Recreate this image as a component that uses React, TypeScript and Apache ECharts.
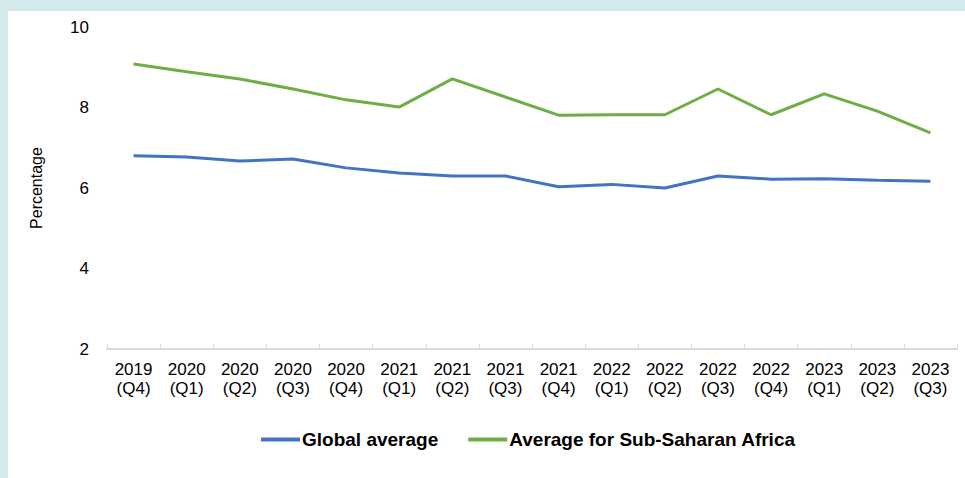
import React, { useEffect, useRef } from "react";
import * as echarts from "echarts";

const categories = [
  "2019\n(Q4)", "2020\n(Q1)", "2020\n(Q2)", "2020\n(Q3)", "2020\n(Q4)",
  "2021\n(Q1)", "2021\n(Q2)", "2021\n(Q3)", "2021\n(Q4)", "2022\n(Q1)",
  "2022\n(Q2)", "2022\n(Q3)", "2022\n(Q4)", "2023\n(Q1)", "2023\n(Q2)", "2023\n(Q3)",
];
const globalAverage = [6.8, 6.77, 6.67, 6.72, 6.5, 6.37, 6.3, 6.3, 6.03, 6.09, 6.0, 6.3, 6.22, 6.23, 6.19, 6.17];
const subSaharanAfrica = [9.08, 8.89, 8.71, 8.46, 8.19, 8.01, 8.71, 8.26, 7.81, 7.82, 7.82, 8.46, 7.82, 8.34, 7.91, 7.37];
const seriesNames = ["Global average", "Average for Sub-Saharan Africa"];

const FONT = "'Liberation Sans', Arial, Helvetica, sans-serif";

export default function App() {
  const ref = useRef<HTMLDivElement>(null);
  useEffect(() => {
    if (!ref.current) return;
    const chart = echarts.init(ref.current, undefined, { renderer: "svg" });
    chart.setOption({
      animation: false,
      backgroundColor: "#D4EAED",
      graphic: [
        {
          type: "rect",
          z: -10,
          shape: { x: 8, y: 11, width: 957, height: 467 },
          style: { fill: "#ffffff" },
          silent: true,
        },
      ],
      grid: { left: 107, right: 8, top: 27, bottom: 129, containLabel: false },
      legend: {
        left: 256,
        top: 425,
        itemWidth: 39,
        itemHeight: 4,
        itemGap: 30,
        icon: "rect",
        textStyle: { fontFamily: FONT, fontSize: 19, fontWeight: "bold", color: "#000", padding: [0, 0, 0, -3] },
        data: seriesNames,
      },
      xAxis: {
        type: "category",
        data: categories,
        boundaryGap: true,
        axisLine: { show: true, lineStyle: { color: "#D9D9D9", width: 2 } },
        axisTick: { show: true, inside: true, length: 5, lineStyle: { color: "#D9D9D9", width: 1 } },
        axisLabel: { fontFamily: FONT, fontSize: 17, color: "#000", margin: 11, lineHeight: 19, interval: 0 },
        splitLine: { show: false },
      },
      yAxis: {
        type: "value",
        min: 2,
        max: 10,
        interval: 2,
        name: "Percentage",
        nameLocation: "middle",
        nameGap: 63,
        nameRotate: 90,
        nameTextStyle: { fontFamily: FONT, fontSize: 16, color: "#000" },
        axisLine: { show: false },
        axisTick: { show: false },
        splitLine: { show: false },
        axisLabel: { fontFamily: FONT, fontSize: 17, color: "#000", margin: 18 },
      },
      series: [
        {
          name: seriesNames[0],
          type: "line",
          data: globalAverage,
          symbol: "none",
          lineStyle: { color: "#4472C4", width: 3 },
          itemStyle: { color: "#4472C4" },
        },
        {
          name: seriesNames[1],
          type: "line",
          data: subSaharanAfrica,
          symbol: "none",
          lineStyle: { color: "#70AD47", width: 3 },
          itemStyle: { color: "#70AD47" },
        },
      ],
    });
    return () => chart.dispose();
  }, []);
  return (
    <div
      ref={ref}
      style={{ position: "fixed", left: 0, top: 0, width: 965, height: 478 }}
    />
  );
}
